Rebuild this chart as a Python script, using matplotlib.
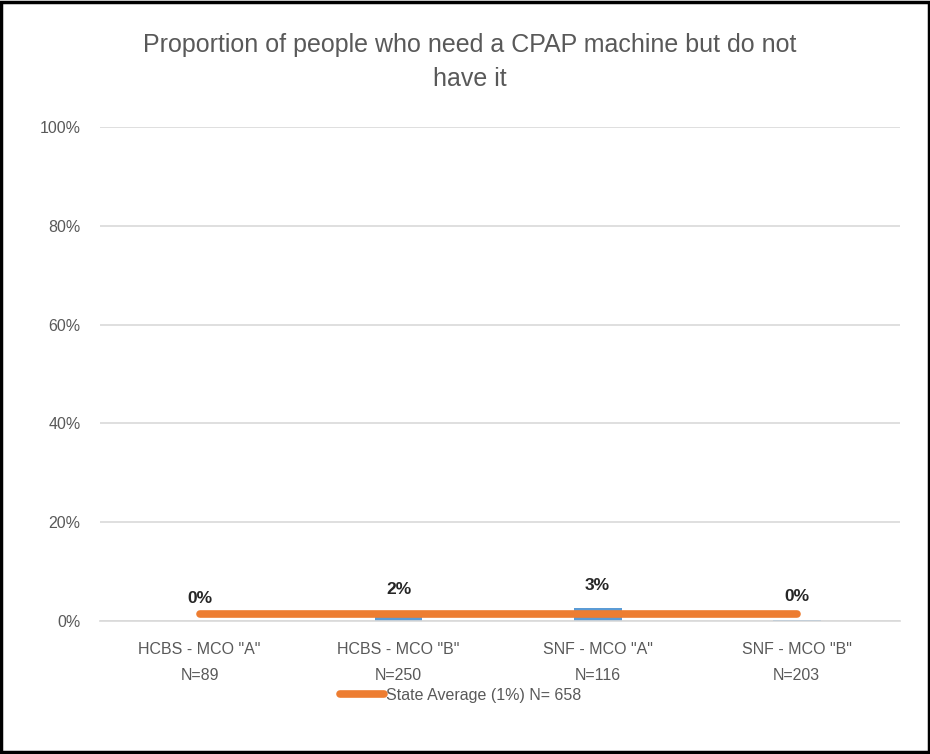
import matplotlib
matplotlib.use("Agg")
import matplotlib.pyplot as plt
from matplotlib.ticker import PercentFormatter
from matplotlib.patches import Rectangle

categories = ['HCBS - MCO "A"\nN=89', 'HCBS - MCO "B"\nN=250',
              'SNF - MCO "A"\nN=116', 'SNF - MCO "B"\nN=203']
values = [0.0, 1.8, 2.6, 0.3]
labels = ["0%", "2%", "3%", "0%"]
state_avg = [1.4, 1.4, 1.4, 1.4]
legend_label = "State Average (1%) N= 658"
title = "Proportion of people who need a CPAP machine but do not\nhave it"
yticks = [0, 20, 40, 60, 80, 100]

plt.rcParams['font.family'] = ['Liberation Sans', 'DejaVu Sans']
gray = "#595959"

fig = plt.figure(figsize=(9.3, 7.54), dpi=100)
ax = fig.add_axes([0.1075, 0.1764, 0.8605, 0.6552])

x = list(range(len(categories)))
ax.bar(x, values, width=0.24, color="#5B9BD5", zorder=2)
ax.plot(x, state_avg, color="#ED7D31", lw=5.5, solid_capstyle="round",
        zorder=3, label=legend_label)
for xi, v, t in zip(x, values, labels):
    ax.annotate(t, (xi, v), xytext=(0, 11), textcoords="offset points",
                ha="center", va="bottom", fontsize=12.5, fontweight="bold",
                color="#262626")

ax.set_xlim(-0.5, 3.52)
ax.set_ylim(0, 100)
ax.set_yticks(yticks)
ax.yaxis.set_major_formatter(PercentFormatter(decimals=0))
ax.set_xticks(x)
ax.set_xticklabels(categories, linespacing=1.95)
ax.grid(axis="y", color="#D9D9D9", lw=1.2, zorder=0)
ax.tick_params(axis="both", length=0, colors=gray, labelsize=11.5)
ax.tick_params(axis="y", pad=14)
ax.tick_params(axis="x", pad=15)
for s in ["top", "right", "left"]:
    ax.spines[s].set_visible(False)
ax.spines["bottom"].set_color("#D9D9D9")
ax.spines["bottom"].set_linewidth(1.2)

fig.text(0.505, 0.918, title, ha="center", va="center", fontsize=18,
         color=gray, linespacing=1.55)

leg = fig.legend(loc="center", bbox_to_anchor=(0.495, 0.078), frameon=False,
                 fontsize=11.5, handlelength=2.8, handletextpad=0.1)
for t in leg.get_texts():
    t.set_color(gray)

fig.patches.append(Rectangle((0.0015, 0.002), 0.997, 0.996, transform=fig.transFigure,
                             fill=False, edgecolor="black", lw=2.5))

fig.savefig("out.png", dpi=100)
